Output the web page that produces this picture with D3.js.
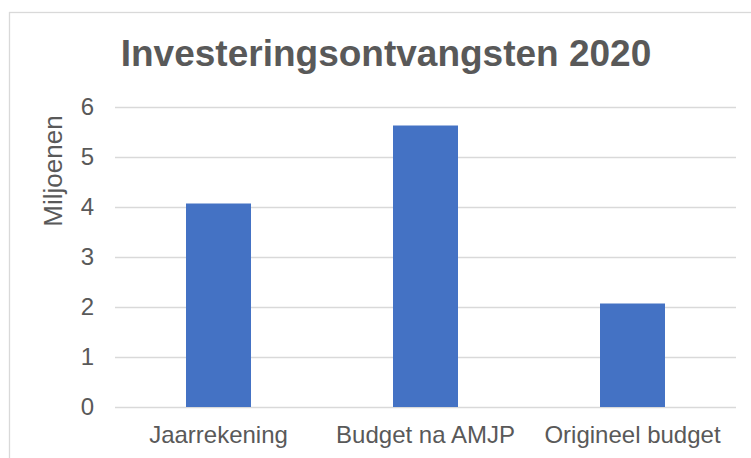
<!DOCTYPE html>
<html>
  <head>
    <meta charset="utf-8">
    <title>Investeringsontvangsten 2020</title>
    <script src="https://unpkg.com/d3@7/dist/d3.min.js"></script>
    <style>
      body { margin: 0; background: #ffffff; }
      svg text { font-family: "Liberation Sans", Arial, sans-serif; fill: #595959; }
      .grid line { stroke: #d9d9d9; }
      .grid path { display: none; }
    </style>
  </head>
  <body>
    <div id="chart"></div>
    <script>
    // data
    var categories = ["Jaarrekening", "Budget na AMJP", "Origineel budget"];
    var values = [4.07, 5.63, 2.07];
    var yTicks = [0, 1, 2, 3, 4, 5, 6];
    var title = "Investeringsontvangsten 2020";
    var yTitle = "Miljoenen";

    var W = 751, H = 458;
    var plot = { left: 115, right: 736, top: 107, bottom: 407 };

    var svg = d3.select("#chart").append("svg")
      .attr("width", W)
      .attr("height", H);

    // chart border
    svg.append("rect")
      .attr("x", 9.5).attr("y", 12.5)
      .attr("width", W + 20).attr("height", H + 20)
      .attr("fill", "none")
      .attr("stroke", "#d9d9d9")
      .attr("stroke-width", 1.3);

    var x = d3.scaleBand()
      .domain(categories)
      .range([plot.left, plot.right])
      .paddingInner(0.686)
      .paddingOuter(0.343);

    var y = d3.scaleLinear()
      .domain([0, 6])
      .range([plot.bottom, plot.top]);

    // gridlines
    svg.append("g")
      .attr("class", "grid")
      .attr("transform", "translate(" + plot.left + ",0)")
      .call(d3.axisLeft(y).tickValues(yTicks).tickSize(-(plot.right - plot.left)).tickFormat(""))
      .selectAll("line").attr("stroke-width", 1.3);

    // tick labels
    svg.append("g")
      .selectAll("text")
      .data(yTicks)
      .enter().append("text")
      .attr("x", 94)
      .attr("y", d => y(d))
      .attr("dy", "0.35em")
      .attr("text-anchor", "end")
      .style("font-size", "24px")
      .text(d => d);

    // bars
    svg.append("g")
      .selectAll("rect")
      .data(values)
      .enter().append("rect")
      .attr("x", (d, i) => x(categories[i]))
      .attr("width", x.bandwidth())
      .attr("y", d => y(d))
      .attr("height", d => y(0) - y(d))
      .attr("fill", "#4472c4");

    // category labels
    svg.append("g")
      .selectAll("text")
      .data(categories)
      .enter().append("text")
      .attr("x", d => x(d) + x.bandwidth() / 2)
      .attr("y", 443)
      .attr("text-anchor", "middle")
      .style("font-size", "24px")
      .text(d => d);

    // title
    svg.append("text")
      .attr("x", 386)
      .attr("y", 66)
      .attr("text-anchor", "middle")
      .style("font-size", "37px")
      .style("font-weight", "bold")
      .text(title);

    // y axis title
    svg.append("text")
      .attr("transform", "translate(62,171) rotate(-90)")
      .attr("text-anchor", "middle")
      .style("font-size", "26px")
      .text(yTitle);
    </script>
  </body>
</html>
